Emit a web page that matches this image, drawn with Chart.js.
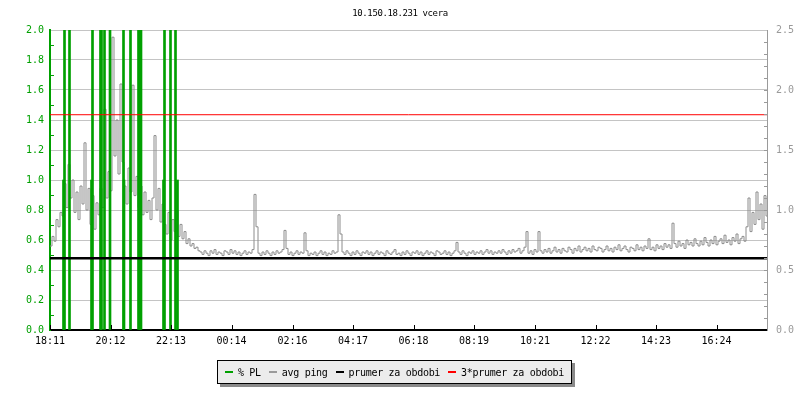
<!DOCTYPE html>
<html>
<head>
<meta charset="utf-8">
<script src="https://cdn.jsdelivr.net/npm/chart.js@4/dist/chart.umd.min.js"></script>
<style>
  html, body { margin: 0; padding: 0; background: #ffffff; }
  #wrap { position: relative; width: 800px; height: 400px; }
  #chart { position: absolute; left: 0; top: 0; }
  #title {
    position: absolute; left: 0; top: 8px; width: 800px; text-align: center;
    font: 9px "DejaVu Sans Mono", monospace; letter-spacing: -0.4px; color: #000;
  }
  #legend {
    position: absolute; left: 217px; top: 360px; width: 353px; height: 22px;
    background: #ececec; border: 1px solid #000; box-shadow: 3px 3px 0 #8a8a8a;
    display: flex; align-items: center; justify-content: center; gap: 8px;
    font: 10px "DejaVu Sans Mono", monospace; letter-spacing: -0.3px; color: #000;
  }
  .item { display: flex; align-items: center; gap: 5px; white-space: nowrap; }
  .swatch { display: inline-block; width: 8px; height: 2px; }
</style>
</head>
<body>
<div id="wrap">
  <canvas id="chart" width="800" height="400"></canvas>
  <div id="title">10.150.18.231 vcera</div>
  <div id="legend"></div>
</div>
<script>
// --- data -------------------------------------------------------------------

// popisky casove osy (minuty od 18:11)
const tickLabels = ["18:11", "20:12", "22:13", "00:14", "02:16", "04:17",
                    "06:18", "08:19", "10:21", "12:22", "14:23", "16:24"];
const spanMinutes = 1434;
const sampleStep = 4; // minut mezi vzorky pingu

// avg ping (ms), vzorky po 4 minutach
const avgPing = [
  // vecer - silny sum
  0.70, 0.78, 0.74, 0.92, 0.86, 0.98,
  0.95, 1.22, 1.02, 1.38, 1.10, 1.25, 0.98,
  1.15, 0.92, 1.20, 1.05, 1.56, 1.00, 1.18,
  0.88, 1.12, 0.84, 1.06, 0.96,
  1.18, 1.02, 1.84, 1.10, 1.32, 1.16,
  2.44, 1.45, 1.75, 1.30, 2.05, 1.40, 1.20,
  1.05, 1.35, 1.15, 2.04, 1.12, 1.28, 1.02,
  1.20, 0.96, 1.15, 0.98, 1.08,
  0.92, 1.10, 1.62, 1.00, 1.18, 0.90, 1.05, 0.88,
  0.80, 0.98, 0.75, 0.92, 0.82, 1.00, 0.78,
  0.88, 0.76, 0.82, 0.72, 0.76, 0.70, 0.72, 0.68, 0.69, 0.66,
  // noc - klid
  0.65, 0.63, 0.66, 0.64, 0.62, 0.66, 0.64, 0.67, 0.63, 0.65,
  0.64, 0.62, 0.66, 0.65, 0.63, 0.67, 0.64, 0.66, 0.63, 0.65,
  0.62, 0.64, 0.66, 0.63, 0.65, 0.64, 0.67,
  1.13, 0.86,
  0.64, 0.62, 0.65, 0.63, 0.66, 0.64, 0.62, 0.65, 0.63, 0.66, 0.64, 0.65, 0.67,
  0.83,
  0.68, 0.63, 0.65, 0.62, 0.64, 0.66, 0.63, 0.65, 0.64,
  0.81,
  0.66, 0.62, 0.64, 0.63, 0.65, 0.62, 0.64, 0.66, 0.63, 0.65, 0.62, 0.64, 0.63, 0.66, 0.64, 0.65,
  0.96, 0.80,
  0.65, 0.63, 0.66, 0.64, 0.62, 0.65, 0.63, 0.66, 0.64, 0.62,
  0.65, 0.64, 0.66, 0.63, 0.65, 0.62, 0.64, 0.66, 0.63, 0.65,
  0.64, 0.62, 0.66, 0.64, 0.63, 0.65, 0.67, 0.63, 0.64, 0.62,
  0.65, 0.63, 0.66, 0.64, 0.62, 0.65, 0.64, 0.66, 0.63, 0.65,
  0.62, 0.64, 0.66, 0.63, 0.65, 0.64, 0.62, 0.66, 0.65, 0.63,
  0.64, 0.66, 0.63, 0.65, 0.62, 0.64, 0.66,
  0.73,
  0.65, 0.63, 0.66, 0.64, 0.62, 0.65, 0.64, 0.66, 0.63, 0.65,
  0.64, 0.66, 0.63, 0.65, 0.67, 0.64, 0.66, 0.63, 0.65, 0.64,
  0.66, 0.64, 0.67, 0.65, 0.63, 0.66, 0.64, 0.67, 0.65, 0.66,
  0.68, 0.64, 0.66, 0.69,
  0.82,
  0.64, 0.66, 0.63, 0.67, 0.65,
  0.82,
  // den - mirny narust
  0.66, 0.64, 0.67, 0.65, 0.68, 0.64, 0.66, 0.69, 0.65, 0.67,
  0.64, 0.68, 0.66, 0.65, 0.69, 0.67, 0.64, 0.68, 0.66, 0.70,
  0.65, 0.67, 0.69, 0.66, 0.68, 0.65, 0.70, 0.67, 0.66, 0.69,
  0.68, 0.65, 0.67, 0.70, 0.66, 0.68, 0.65, 0.69, 0.67, 0.71,
  0.66, 0.68, 0.70, 0.67, 0.65, 0.69, 0.68, 0.66, 0.71, 0.67,
  0.69, 0.66, 0.70, 0.68,
  0.76,
  0.67, 0.69, 0.66, 0.71, 0.68, 0.70, 0.67, 0.72, 0.69, 0.71, 0.68,
  0.89,
  0.72, 0.69, 0.74, 0.70, 0.72, 0.68, 0.75, 0.71, 0.73, 0.70,
  0.76, 0.72, 0.70, 0.74, 0.71, 0.77, 0.73, 0.70, 0.75, 0.72,
  0.78, 0.71, 0.74, 0.76, 0.72, 0.79, 0.73, 0.75, 0.71, 0.77,
  0.74, 0.80, 0.72, 0.76, 0.78, 0.74,
  0.86, 1.10, 0.82, 0.98, 0.88, 1.15, 0.92, 1.05, 0.84, 1.12, 0.95, 1.02
];

// ztrata paketu (% PL) - minuta od zacatku a hodnota
const plMinutes = [27, 29, 39, 83, 85, 101, 103, 109, 120, 147, 148, 161,
                   177, 180, 182, 227, 229, 241, 251, 255];
const plValues  = [1.0, 2.5, 2.5, 1.0, 2.5, 2.5, 2.5, 2.5, 2.5, 2.5, 1.0, 2.5,
                   2.5, 2.5, 2.5, 1.0, 2.5, 2.5, 2.5, 1.0];

const meanPing = 0.598;

// --- helpers ----------------------------------------------------------------

const GREEN = "#00a000";
const GRAY = "#9a9a9a";
const LINE_GRAY = "#8c8c8c";
const FONT = { family: "'DejaVu Sans Mono', monospace", size: 10 };

/** Prevede "HH:MM" na minuty od prvniho popisku (s pretecenim pres pulnoc). */
function toMinutes(label) {
  const [h0, m0] = tickLabels[0].split(":").map(Number);
  const [h, m] = label.split(":").map(Number);
  let d = (h * 60 + m) - (h0 * 60 + m0);
  if (d < 0) d += 24 * 60;
  return d;
}
const tickMinutes = tickLabels.map(toMinutes);

const pingPoints = avgPing.map((v, i) => ({ x: i * sampleStep, y: v }));
const plPoints = plMinutes.map((m, i) => ({ x: m, y: plValues[i] }));

// vnitrni drobne carky na osach (styl rrdtool)
const innerTicks = {
  id: "innerTicks",
  afterDraw(chart) {
    const { ctx, chartArea, scales } = chart;
    ctx.save();
    ctx.lineWidth = 1;
    ctx.strokeStyle = GREEN;
    for (let v = 0.1; v < 2.0; v += 0.2) {
      const y = Math.round(scales.y.getPixelForValue(v)) + 0.5;
      ctx.beginPath(); ctx.moveTo(chartArea.left, y); ctx.lineTo(chartArea.left + 4, y); ctx.stroke();
    }
    ctx.strokeStyle = GRAY;
    for (let i = 1; i < 25; i++) {
      const y = Math.round(scales.y1.getPixelForValue(i / 10)) + 0.5;
      ctx.beginPath(); ctx.moveTo(chartArea.right - 3, y); ctx.lineTo(chartArea.right, y); ctx.stroke();
    }
    ctx.strokeStyle = "#000";
    tickMinutes.forEach((m) => {
      const x = Math.round(scales.x.getPixelForValue(m)) + 0.5;
      ctx.beginPath(); ctx.moveTo(x, chartArea.bottom); ctx.lineTo(x, chartArea.bottom - 5); ctx.stroke();
    });
    ctx.restore();
  }
};

// --- chart ------------------------------------------------------------------

new Chart(document.getElementById("chart").getContext("2d"), {
  type: "bar",
  data: {
    datasets: [
      {
        type: "line",
        label: "3*prumer za obdobi",
        data: [{ x: 0, y: meanPing * 3 }, { x: spanMinutes, y: meanPing * 3 }],
        yAxisID: "y1",
        borderColor: "#ff0000",
        borderWidth: 1,
        pointRadius: 0,
        order: 0
      },
      {
        type: "line",
        label: "prumer za obdobi",
        data: [{ x: 0, y: meanPing }, { x: spanMinutes, y: meanPing }],
        yAxisID: "y1",
        borderColor: "#000000",
        borderWidth: 2.5,
        pointRadius: 0,
        order: 1
      },
      {
        type: "bar",
        label: "% PL",
        data: plPoints,
        yAxisID: "y",
        backgroundColor: GREEN,
        barThickness: 2,
        grouped: false,
        order: 2
      },
      {
        type: "line",
        label: "avg ping",
        data: pingPoints,
        yAxisID: "y1",
        borderColor: LINE_GRAY,
        borderWidth: 1,
        stepped: "before",
        pointRadius: 0,
        order: 3
      }
    ]
  },
  options: {
    responsive: false,
    animation: false,
    devicePixelRatio: 1,
    layout: { padding: { top: 30, left: 0, right: 0, bottom: 0 } },
    plugins: {
      legend: { display: false },
      title: { display: false },
      tooltip: { enabled: false }
    },
    scales: {
      x: {
        type: "linear",
        min: 0,
        max: spanMinutes,
        offset: false,
        grid: { display: false, drawTicks: false },
        border: { display: true, color: "#000", width: 2 },
        afterBuildTicks: (scale) => {
          scale.ticks = tickMinutes.map((v) => ({ value: v }));
        },
        afterFit: (scale) => { scale.height = 70; },
        ticks: {
          autoSkip: false,
          maxRotation: 0,
          padding: 5,
          color: "#000",
          font: FONT,
          callback: (value, index) => tickLabels[index]
        }
      },
      y: {
        position: "left",
        min: 0,
        max: 2,
        grid: { color: "#c4c4c4", lineWidth: 1, drawTicks: false },
        border: { color: GREEN, width: 2 },
        afterFit: (scale) => { scale.width = 50; },
        ticks: {
          stepSize: 0.2,
          padding: 6,
          color: GREEN,
          font: FONT,
          callback: (v) => v.toFixed(1)
        }
      },
      y1: {
        position: "right",
        min: 0,
        max: 2.5,
        grid: { drawOnChartArea: false, drawTicks: false },
        border: { color: GRAY, width: 1 },
        afterFit: (scale) => { scale.width = 33; },
        ticks: {
          stepSize: 0.5,
          padding: 9,
          color: GRAY,
          font: FONT,
          callback: (v) => v.toFixed(1)
        }
      }
    }
  },
  plugins: [innerTicks]
});

// legenda v ramecku pod grafem
const legendItems = [
  { label: "% PL", color: GREEN },
  { label: "avg ping", color: GRAY },
  { label: "prumer za obdobi", color: "#000000" },
  { label: "3*prumer za obdobi", color: "#ff0000" }
];
document.getElementById("legend").innerHTML = legendItems
  .map((it) => `<span class="item"><span class="swatch" style="background:${it.color}"></span>${it.label}</span>`)
  .join("");
</script>
</body>
</html>
